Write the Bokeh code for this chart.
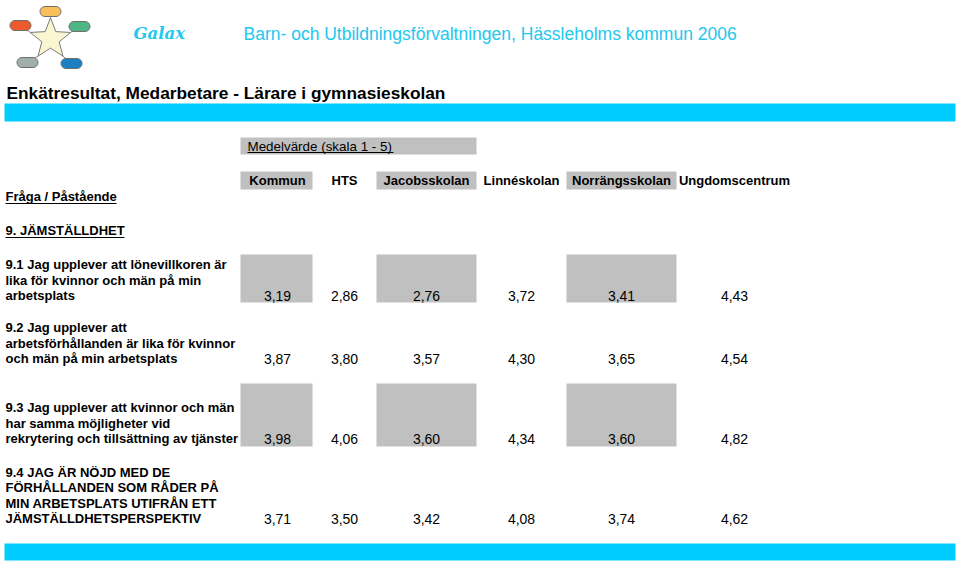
import numpy as np
from bokeh.plotting import figure
from bokeh.models import Range1d
from bokeh.core.properties import value
from bokeh.embed import file_html
from bokeh.resources import INLINE

# ---------------- data ----------------
org_title = "Galax"
header = "Barn- och Utbildningsförvaltningen, Hässleholms kommun 2006"
title = "Enkätresultat, Medarbetare - Lärare i gymnasieskolan"
scale_label = "Medelvärde (skala 1 - 5)"
question_label = "Fråga / Påstående"
section = "9. JÄMSTÄLLDHET"

columns = ["Kommun", "HTS", "Jacobsskolan", "Linnéskolan", "Norrängsskolan", "Ungdomscentrum"]
kommun = [3.19, 3.87, 3.98, 3.71]
hts = [2.86, 3.80, 4.06, 3.50]
jacobsskolan = [2.76, 3.57, 3.60, 3.42]
linneskolan = [3.72, 4.30, 4.34, 4.08]
norrangsskolan = [3.41, 3.65, 3.60, 3.74]
ungdomscentrum = [4.43, 4.54, 4.82, 4.62]
series = [kommun, hts, jacobsskolan, linneskolan, norrangsskolan, ungdomscentrum]

questions = [
    ["9.1 Jag upplever att lönevillkoren är", "lika för kvinnor och män på min", "arbetsplats"],
    ["9.2 Jag upplever att", "arbetsförhållanden är lika för kvinnor", "och män på min arbetsplats"],
    ["9.3 Jag upplever att kvinnor och män", "har samma möjligheter vid", "rekrytering och tillsättning av tjänster"],
    ["9.4 JAG ÄR NÖJD MED DE", "FÖRHÅLLANDEN SOM RÅDER PÅ", "MIN ARBETSPLATS UTIFRÅN ETT", "JÄMSTÄLLDHETSPERSPEKTIV"],
]

# ---------------- layout ----------------
W, H = 957, 561
FONT = value("Liberation Sans")
CYAN = "#00CCFF"
CYAN_TXT = "#22C8EE"
GRAY = "#C0C0C0"

col_x = [277, 344, 426, 521, 621, 734]
shaded_cols = {0: (240, 312), 2: (376, 476), 4: (566, 676)}
row_y = [295, 358, 438, 518]
shaded_rows = {0: (254, 302), 2: (383, 446)}
line_step = 15.4
header_y = 180

p = figure(width=W, height=H, x_range=Range1d(0, W), y_range=Range1d(H, 0),
           output_backend="svg", toolbar_location=None, min_border=0,
           x_axis_location=None, y_axis_location=None)
p.grid.visible = False
p.outline_line_color = None
p.background_fill_color = "white"

# cyan bands
p.quad(left=[4, 4], right=[955, 955], top=[103, 543], bottom=[121, 560],
       fill_color=CYAN, line_color=None)

# logo ----------------------------------------------------------
cx, cy, R = 50, 38.5, 21.2
ang = np.deg2rad(-90 + np.arange(10) * 36)
rad = np.where(np.arange(10) % 2 == 0, R, R * 0.43)
sx = cx + rad * np.cos(ang)
sy = cy + rad * np.sin(ang)
pill_cx = [50, 20, 79, 27, 71]
pill_cy = [11, 25, 26, 62, 63]
pill_col = ["#F8C05C", "#EE5A2C", "#50B584", "#A0AFA8", "#1C7FC0"]
tips = [0, 8, 2, 6, 4]
p.segment(x0=[sx[t] for t in tips], y0=[sy[t] for t in tips], x1=pill_cx, y1=pill_cy,
          line_color="#808080", line_width=1)
p.patch(sx, sy, fill_color="#FAF6D2", line_color="#7A7A7A", line_width=1)


def pill(x, y, w=21, h=10):
    r = h / 2
    t1 = np.linspace(np.pi / 2, 3 * np.pi / 2, 12)
    t2 = np.linspace(-np.pi / 2, np.pi / 2, 12)
    xs = np.concatenate([x - w / 2 + r + r * np.cos(t1), x + w / 2 - r + r * np.cos(t2)])
    ys = np.concatenate([y + r * np.sin(t1), y + r * np.sin(t2)])
    return xs, ys


pxs, pys = [], []
for x, y in zip(pill_cx, pill_cy):
    a, b = pill(x, y)
    pxs.append(list(a))
    pys.append(list(b))
p.patches(pxs, pys, fill_color=pill_col, line_color="#6E6E6E", line_width=1)

# header texts
p.text(x=[133], y=[33], text=[org_title], text_font=value("DejaVu Serif"),
       text_font_style="bold italic", text_font_size="16.5px", text_color=CYAN_TXT,
       text_baseline="middle")
p.text(x=[243], y=[33], text=[header], text_font=FONT, text_font_size="17.5px",
       text_color=CYAN_TXT, text_baseline="middle")
p.text(x=[6], y=[92], text=[title], text_font=FONT, text_font_style="bold",
       text_font_size="17.3px", text_color="black", text_baseline="middle")

# Medelvärde box
p.quad(left=[240], right=[476], top=[137], bottom=[154], fill_color=GRAY, line_color=None)
p.text(x=[247], y=[145.5], text=[scale_label], text_font=FONT, text_font_size="13.4px",
       text_color="black", text_baseline="middle")
p.segment(x0=[247], y0=[152], x1=[393], y1=[152], line_color="black", line_width=1)

# column header boxes and shaded data cells
for c, (l, r) in shaded_cols.items():
    p.quad(left=[l], right=[r], top=[171], bottom=[189], fill_color=GRAY, line_color=None)
    for rr, (t, b) in shaded_rows.items():
        p.quad(left=[l], right=[r], top=[t], bottom=[b], fill_color=GRAY, line_color=None)

p.text(x=col_x, y=[header_y] * len(columns), text=columns, text_font=FONT,
       text_font_style="bold", text_font_size="13px", text_color="black",
       text_align="center", text_baseline="middle")

# left labels
p.text(x=[5], y=[196], text=[question_label], text_font=FONT, text_font_style="bold",
       text_font_size="13px", text_color="black", text_baseline="middle")
p.segment(x0=[5], y0=[203], x1=[116], y1=[203], line_color="black", line_width=1)
p.text(x=[5], y=[230], text=[section], text_font=FONT, text_font_style="bold",
       text_font_size="13px", text_color="black", text_baseline="middle")
p.segment(x0=[5], y0=[237], x1=[124], y1=[237], line_color="black", line_width=1)

# questions
qx, qy, qt = [], [], []
for lines, y in zip(questions, row_y):
    n = len(lines)
    for i, ln in enumerate(lines):
        qx.append(5)
        qy.append(y - (n - 1 - i) * line_step)
        qt.append(ln)
p.text(x=qx, y=qy, text=qt, text_font=FONT, text_font_style="bold", text_font_size="13px",
       text_color="black", text_baseline="middle")

# values
vx, vy, vt = [], [], []
for c, vals in enumerate(series):
    for r, v in enumerate(vals):
        vx.append(col_x[c])
        vy.append(row_y[r])
        vt.append(f"{v:.2f}".replace(".", ","))
p.text(x=vx, y=vy, text=vt, text_font=FONT, text_font_size="14px", text_color="black",
       text_align="center", text_baseline="middle")

open("out.html", "w").write(file_html(p, INLINE))
